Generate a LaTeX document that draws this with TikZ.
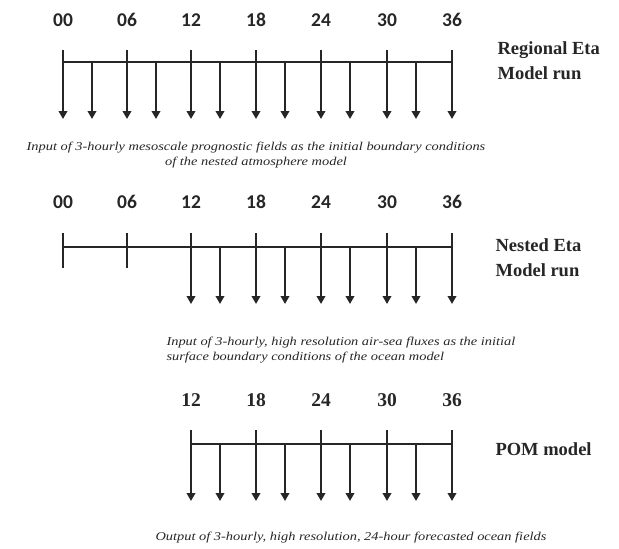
\documentclass[tikz,border=0pt]{standalone}
\usepackage{fontspec}
\setmainfont{Liberation Serif}
\newfontfamily\numfont{Carlito}
\newfontfamily\capfont[FakeStretch=1.2]{Liberation Serif}
\usetikzlibrary{arrows.meta}
\begin{document}
\begin{tikzpicture}[x=1pt,y=-1pt,
  axis/.style={line width=2.4pt,draw=black!85},
  tickarrow/.style={axis,-{Triangle[width=8.5pt,length=8pt]}},
  hour/.style={font=\numfont\bfseries\fontsize{19.5}{20}\selectfont,text=black!85},
  hourserif/.style={font=\bfseries\fontsize{19.5}{20}\selectfont,text=black!85},
  model/.style={font=\bfseries\fontsize{18.5}{25}\selectfont,align=left,anchor=west,text=black!85},
  caption/.style={font=\capfont\itshape\fontsize{12}{15}\selectfont,text=black!85}]
\useasboundingbox (0,0) rectangle (619,549);

% ---- Regional Eta model run ----
\foreach \h/\x in {00/63,06/127,12/191,18/256,24/321,30/387,36/452}{
  \node[hour] (ra\h) at (\x,20) {\h};
  \coordinate (rt\h) at (\x,50);
  \coordinate (rb\h) at (\x,119);
  \draw[tickarrow] (rt\h) -- (rb\h);
}
\draw[axis] (63,62) coordinate (rl) -- (452,62) coordinate (rr);
\foreach \x in {92,156,220,285,350,416}{
  \coordinate (rm\x) at (\x,62);
  \coordinate (re\x) at (\x,119);
  \draw[tickarrow] (rm\x) -- (re\x);
}
\node[model] (regional) at (494,61) {Regional Eta\\Model run};
\node[caption,align=center] (cap1) at (256,155)
  {Input of 3-hourly mesoscale prognostic fields as the initial boundary conditions\\of the nested atmosphere model};

% ---- Nested Eta model run ----
\foreach \h/\x in {00/63,06/127,12/191,18/256,24/321,30/387,36/452}{
  \node[hour] (na\h) at (\x,202) {\h};
}
\draw[axis] (63,247) coordinate (nl) -- (452,247) coordinate (nr);
\foreach \h/\x in {00/63,06/127}{
  \coordinate (nt\h) at (\x,233);
  \coordinate (nb\h) at (\x,268);
  \draw[axis] (nt\h) -- (nb\h);
}
\foreach \h/\x in {12/191,18/256,24/321,30/387,36/452}{
  \coordinate (nt\h) at (\x,233);
  \coordinate (nb\h) at (\x,304);
  \draw[tickarrow] (nt\h) -- (nb\h);
}
\foreach \x in {220,285,350,416}{
  \coordinate (nm\x) at (\x,247);
  \coordinate (ne\x) at (\x,304);
  \draw[tickarrow] (nm\x) -- (ne\x);
}
\node[model] (nested) at (492,258) {Nested Eta\\Model run};
\node[caption,align=left,anchor=west] (cap2) at (163,350)
  {Input of 3-hourly, high resolution air-sea fluxes as the initial\\surface boundary conditions of the ocean model};

% ---- POM model ----
\foreach \h/\x in {12/191,18/256,24/321,30/387,36/452}{
  \node[hourserif] (pa\h) at (\x,400) {\h};
  \coordinate (pt\h) at (\x,430);
  \coordinate (pb\h) at (\x,501);
  \draw[tickarrow] (pt\h) -- (pb\h);
}
\draw[axis] (191,444) coordinate (pl) -- (452,444) coordinate (pr);
\foreach \x in {220,285,350,416}{
  \coordinate (pm\x) at (\x,444);
  \coordinate (pe\x) at (\x,501);
  \draw[tickarrow] (pm\x) -- (pe\x);
}
\node[model] (pom) at (492,449) {POM model};
\node[caption,anchor=west] (cap3) at (152,538)
  {Output of 3-hourly, high resolution, 24-hour forecasted ocean fields};
\end{tikzpicture}
\end{document}
